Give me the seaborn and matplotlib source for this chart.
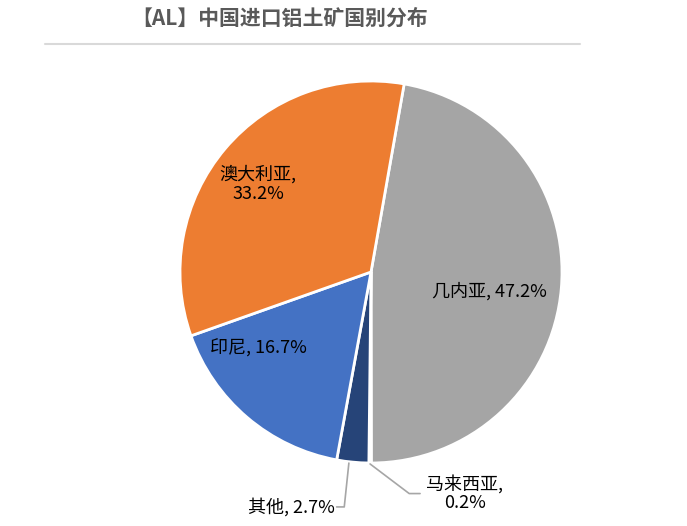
import numpy as np
import seaborn as sns
import matplotlib.pyplot as plt
from matplotlib.lines import Line2D

# data (clockwise from top)
countries = ['几内亚', '马来西亚', '其他', '印尼', '澳大利亚']
shares = [47.2, 0.2, 2.7, 16.7, 33.2]
colors = ['#A5A5A5', '#5B9BD5', '#264478', '#4472C4', '#ED7D31']

sns.set_theme(style='white')
plt.rcParams['font.family'] = ['Noto Sans CJK SC', 'DejaVu Sans']

fig = plt.figure(figsize=(6.87, 5.26), dpi=100)
cx, cy, r = 371, 272, 191
ax = fig.add_axes([(cx - r) / 687, (526 - cy - r) / 526, 2 * r / 687, 2 * r / 526])

wedges, _ = ax.pie(shares, colors=sns.color_palette(colors), startangle=80,
                   counterclock=False, radius=1,
                   wedgeprops=dict(edgecolor='white', linewidth=2))
ax.set_xlim(-1, 1)
ax.set_ylim(-1, 1)
ax.axis('off')

fs = 13
labels = [f'{c}, {v:.1f}%' for c, v in zip(countries, shares)]

# inside labels
ax.text(0.62, -0.10, labels[0], ha='center', va='center', fontsize=fs, color='black')
ax.text(-0.59, 0.46, f'{countries[4]},\n{shares[4]:.1f}%', ha='center', va='center',
        fontsize=fs, color='black', linespacing=1.05)
ax.text(-0.59, -0.40, labels[3], ha='center', va='center', fontsize=fs, color='black')


def anchor(w):
    mid = np.deg2rad((w.theta1 + w.theta2) / 2)
    return np.cos(mid), np.sin(mid)


# 马来西亚 leader
x0, y0 = anchor(wedges[1])
ax.plot([x0, 0.20, 0.257], [y0 - 0.005, -1.16, -1.16], color='#A6A6A6', lw=1.2, clip_on=False)
ax.text(0.49, -1.16, f'{countries[1]},\n{shares[1]:.1f}%', ha='center', va='center',
        fontsize=fs, color='black', linespacing=1.05)

# 其他 leader
x0, y0 = anchor(wedges[2])
ax.plot([x0 - 0.02, -0.14, -0.18], [y0 - 0.005, -1.23, -1.23], color='#A6A6A6', lw=1.2, clip_on=False)
ax.text(-0.19, -1.23, labels[2], ha='right', va='center', fontsize=fs, color='black')

fig.text(280 / 687, 1 - 18 / 526, '【AL】中国进口铝土矿国别分布', ha='center', va='center',
         fontsize=15, fontweight='bold', color='#595959')
fig.add_artist(Line2D([45 / 687, 580 / 687], [1 - 44 / 526] * 2, color='#D9D9D9', lw=1.5))

fig.savefig('out.png', dpi=100)
